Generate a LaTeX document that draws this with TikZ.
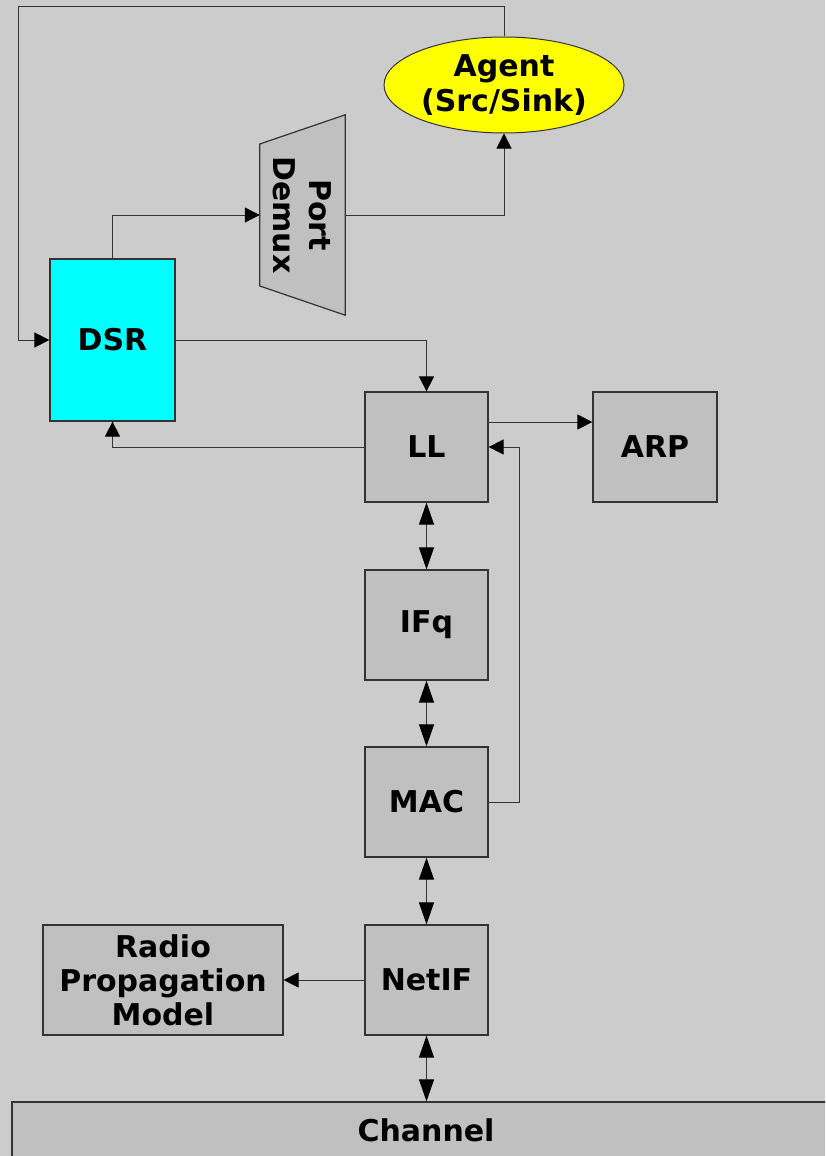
\documentclass[tikz,border=0pt]{standalone}
\usepackage{fontspec}
\setmainfont{DejaVu Sans}
\usetikzlibrary{arrows.meta,shapes.geometric,calc}
\definecolor{bgGray}{HTML}{CCCCCC}
\definecolor{boxGray}{HTML}{C0C0C0}
\definecolor{lineGray}{HTML}{333333}
\definecolor{dsrCyan}{HTML}{00FFFF}
\definecolor{agentYellow}{HTML}{FFFF00}
\begin{document}
\begin{tikzpicture}[x=1pt,y=-1pt,
    >={Triangle[length=15pt,width=15pt,color=black]},
    blk/.style={draw=lineGray,line width=1.2pt,fill=boxGray,minimum width=123pt,minimum height=110pt,
        inner sep=0pt,align=center,font=\fontsize{30}{34}\selectfont\bfseries},
    conn/.style={draw=lineGray,line width=1pt},
    dbl/.style={conn,{Triangle[length=22pt,width=15pt,color=black]}-{Triangle[length=22pt,width=15pt,color=black]}}]
    % 背景
    \useasboundingbox (0,0) rectangle (825,1156);
    \fill[bgGray] (0,0) rectangle (825,1156);
    \clip (0,0) rectangle (825,1156);
    % 模块
    \node[blk,fill=dsrCyan,minimum width=125pt,minimum height=162pt] (dsr) at (112.5,340) {DSR};
    \node[blk] (ll) at (426.5,447) {LL};
    \node[blk,minimum width=124pt] (arp) at (655,447) {ARP};
    \node[blk] (ifq) at (426.5,625) {IFq};
    \node[blk] (mac) at (426.5,802) {MAC};
    \node[blk] (netif) at (426.5,980) {NetIF};
    \node[blk,minimum width=240pt] (radio) at (163,980) {Radio\\Propagation\\Model};
    \node[blk,minimum width=828pt,minimum height=56pt] (channel) at (426,1130) {Channel};
    \node[ellipse,draw=lineGray,line width=1pt,fill=agentYellow,minimum width=240pt,minimum height=96pt,
        inner sep=0pt,align=center,font=\fontsize{30}{35}\selectfont\bfseries] (agent) at (504,85) {Agent\\(Src/Sink)};
    % Port Demux 梯形
    \node[minimum width=85pt,minimum height=200pt,inner sep=0pt] (demux) at (302.5,215) {};
    \draw[lineGray,line width=1.2pt,fill=boxGray] ($(demux.west)+(0,-71)$) -- (demux.north east)
        -- (demux.south east) -- ($(demux.west)+(0,71)$) -- cycle;
    \node[rotate=-90,align=center,font=\fontsize{30}{36}\selectfont\bfseries] (demuxtext) at (demux.center) {Port\\Demux};
    % 连线
    \coordinate (looptop) at (18,7);
    \draw[conn,->] (agent.north) |- (looptop) |- (dsr.west);
    \draw[conn,->] (dsr.north) |- (demux.west);
    \draw[conn,->] (demux.east) -| (agent.south);
    \draw[conn,->] (dsr.east) -| (ll.north);
    \draw[conn,->] (ll.west) -| (dsr.south);
    \draw[conn,->] ([yshift=25pt]ll.east) -- ([yshift=25pt]arp.west);
    \draw[conn,->] (mac.east) -- ++(31,0) |- (ll.east);
    \draw[dbl] (ll.south) -- (ifq.north);
    \draw[dbl] (ifq.south) -- (mac.north);
    \draw[dbl] (mac.south) -- (netif.north);
    \draw[conn,->] (netif.west) -- (radio.east);
    \draw[dbl] (netif.south) -- (netif.south |- channel.north);
\end{tikzpicture}
\end{document}
